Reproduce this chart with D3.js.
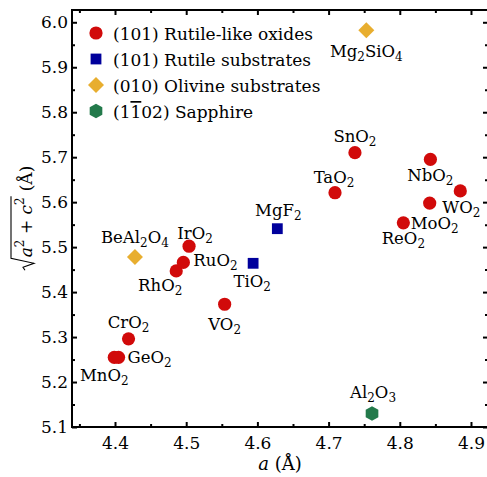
<!DOCTYPE html>
<html>
<head>
<meta charset="utf-8">
<script src="https://cdn.jsdelivr.net/npm/d3@7"></script>
<style>
  body { margin: 0; background: #fff; }
  svg { display: block; font-family: "DejaVu Serif", serif; }
</style>
</head>
<body>
<div id="chart"></div>
<script>

// (101) rutile-like oxides
const oxideNames = ["MnO2", "GeO2", "CrO2", "VO2", "RhO2", "RuO2", "IrO2", "TaO2", "SnO2", "ReO2", "MoO2", "NbO2", "WO2"];
const oxideA = [4.399, 4.405, 4.419, 4.554, 4.486, 4.496, 4.504, 4.709, 4.737, 4.805, 4.842, 4.843, 4.885];
const oxideR = [5.255, 5.255, 5.296, 5.373, 5.447, 5.466, 5.502, 5.621, 5.710, 5.554, 5.598, 5.695, 5.625];

// (101) rutile substrates
const rutileNames = ["TiO2", "MgF2"];
const rutileA = [4.594, 4.628];
const rutileR = [5.464, 5.541];

// (010) olivine substrates
const olivineNames = ["BeAl2O4", "Mg2SiO4"];
const olivineA = [4.428, 4.753];
const olivineR = [5.478, 5.982];

// (1-102) sapphire
const sapphireNames = ["Al2O3"];
const sapphireA = [4.761];
const sapphireR = [5.130];

const xTicks = [4.4, 4.5, 4.6, 4.7, 4.8, 4.9];
const xMinor = [4.35, 4.45, 4.55, 4.65, 4.75, 4.85];
const yTicks = [5.1, 5.2, 5.3, 5.4, 5.5, 5.6, 5.7, 5.8, 5.9, 6.0];
const yMinor = [5.15, 5.25, 5.35, 5.45, 5.55, 5.65, 5.75, 5.85, 5.95];

// label placement: [anchor, dx, dy] in px from the marker
const labelPos = {
    MnO2: ["middle", -10, 24], GeO2: ["start", 9, 6], CrO2: ["middle", 0, -11],
    VO2: ["middle", 0, 26], RhO2: ["middle", -16, 20], RuO2: ["start", 10, 4],
    IrO2: ["middle", 6, -7], TaO2: ["middle", -1, -10], SnO2: ["middle", 0, -11],
    ReO2: ["middle", 0, 21], MoO2: ["middle", 5, 26], NbO2: ["middle", 0, 22],
    WO2: ["middle", 1, 22], TiO2: ["middle", -1, 24], MgF2: ["middle", 1, -13],
    BeAl2O4: ["middle", 0, -14], Mg2SiO4: ["middle", 0, 27], Al2O3: ["middle", 1, -16]
};

const colors = {red: "#d10a0a", blue: "#00009c", orange: "#e8ae2f", green: "#237a4b"};

const width = 487, height = 477;

const svg = d3.select("#chart").append("svg")
    .attr("width", width)
    .attr("height", height);

const x = d3.scaleLinear().domain([4.3396, 4.9239]).range([72, 488]);
const y = d3.scaleLinear().domain([5.1, 6.0273]).range([427, 10]);

// axes (ticks point inward)
function styleAxis(g) {
    g.select(".domain").remove();
    g.selectAll("line").attr("stroke", "#000").attr("stroke-width", 2);
    g.selectAll("text").attr("fill", "#000")
        .style("font-family", "DejaVu Serif").style("font-size", "17px");
}

svg.append("g").attr("transform", "translate(0,427)")
    .call(d3.axisBottom(x).tickValues(xTicks).tickSize(-5).tickPadding(10).tickFormat(d3.format(".1f")))
    .call(styleAxis);
svg.append("g").attr("transform", "translate(0,427)")
    .call(d3.axisBottom(x).tickValues(xMinor).tickSize(-3).tickFormat(""))
    .call(styleAxis);
svg.append("g").attr("transform", "translate(0,10)")
    .call(d3.axisTop(x).tickValues(xTicks).tickSize(-5).tickFormat(""))
    .call(styleAxis);
svg.append("g").attr("transform", "translate(0,10)")
    .call(d3.axisTop(x).tickValues(xMinor).tickSize(-3).tickFormat(""))
    .call(styleAxis);

svg.append("g").attr("transform", "translate(72,0)")
    .call(d3.axisLeft(y).tickValues(yTicks).tickSize(-5).tickPadding(4).tickFormat(d3.format(".1f")))
    .call(styleAxis);
svg.append("g").attr("transform", "translate(72,0)")
    .call(d3.axisLeft(y).tickValues(yMinor).tickSize(-3).tickFormat(""))
    .call(styleAxis);
svg.append("g").attr("transform", "translate(488,0)")
    .call(d3.axisRight(y).tickValues(yTicks).tickSize(-5).tickFormat(""))
    .call(styleAxis);
svg.append("g").attr("transform", "translate(488,0)")
    .call(d3.axisRight(y).tickValues(yMinor).tickSize(-3).tickFormat(""))
    .call(styleAxis);

// frame
svg.append("rect")
    .attr("x", x.range()[0]).attr("y", y.range()[1])
    .attr("width", x.range()[1] - x.range()[0])
    .attr("height", y.range()[0] - y.range()[1])
    .attr("fill", "none").attr("stroke", "#000").attr("stroke-width", 2);

// marker shapes
function shapePath(type) {
    if (type === "square") {
        let s = 5.4;
        return `M${-s},${-s}H${s}V${s}H${-s}Z`;
    }
    if (type === "diamond") {
        let s = 8;
        return `M0,${-s}L${s},0L0,${s}L${-s},0Z`;
    }
    if (type === "hexagon") {
        let r = 7.3;
        let pts = d3.range(6).map(i => {
            let ang = Math.PI / 3 * i - Math.PI / 2;
            return [r * Math.cos(ang), r * Math.sin(ang)];
        });
        return "M" + pts.map(p => p.join(",")).join("L") + "Z";
    }
    return d3.symbol(d3.symbolCircle, Math.PI * 6.6 * 6.6)();
}

// chemical formula with subscripts
function formula(sel, name, subSize) {
    let parts = name.match(/\d+|\D+/g);
    let shifted = false;
    parts.forEach(p => {
        let t = sel.append("tspan").text(p);
        if (/\d/.test(p)) {
            t.attr("dy", 4).style("font-size", subSize + "px");
            shifted = true;
        } else if (shifted) {
            t.attr("dy", -4);
            shifted = false;
        }
    });
}

const series = [
    {names: oxideNames, a: oxideA, r: oxideR, shape: "circle", color: colors.red},
    {names: rutileNames, a: rutileA, r: rutileR, shape: "square", color: colors.blue},
    {names: olivineNames, a: olivineA, r: olivineR, shape: "diamond", color: colors.orange},
    {names: sapphireNames, a: sapphireA, r: sapphireR, shape: "hexagon", color: colors.green}
];

series.forEach(s => {
    let pts = s.names.map((n, i) => ({name: n, a: s.a[i], r: s.r[i]}));

    svg.append("g").selectAll("path")
        .data(pts)
        .enter().append("path")
        .attr("d", shapePath(s.shape))
        .attr("transform", d => `translate(${x(d.a)},${y(d.r)})`)
        .attr("fill", s.color);

    pts.forEach(d => {
        let lp = labelPos[d.name];
        let t = svg.append("text")
            .attr("x", x(d.a) + lp[1])
            .attr("y", y(d.r) + lp[2])
            .attr("text-anchor", lp[0])
            .style("font-size", "16.5px")
            .attr("fill", "#000");
        formula(t, d.name, 12);
    });
});

// legend
const legendItems = [
    {text: "(101) Rutile-like oxides", shape: "circle", color: colors.red},
    {text: "(101) Rutile substrates", shape: "square", color: colors.blue},
    {text: "(010) Olivine substrates", shape: "diamond", color: colors.orange},
    {text: null, shape: "hexagon", color: colors.green}
];

let legend = svg.append("g").attr("transform", "translate(96,33)");

legendItems.forEach((item, i) => {
    let row = legend.append("g").attr("transform", `translate(0,${i * 26})`);
    row.append("path").attr("d", shapePath(item.shape)).attr("fill", item.color);
    let t = row.append("text").attr("x", 17).attr("y", 7)
        .style("font-size", "17px").attr("fill", "#000");
    if (item.text) {
        t.text(item.text);
    } else {
        t.append("tspan").text("(1");
        t.append("tspan").text("1").style("text-decoration", "overline");
        t.append("tspan").text("02) Sapphire");
    }
});

// x label
let xl = svg.append("text")
    .attr("x", 280).attr("y", 470)
    .attr("text-anchor", "middle")
    .style("font-size", "18px");
xl.append("tspan").text("a").style("font-style", "italic");
xl.append("tspan").text(" (Å)");

// y label: sqrt(a^2 + c^2) (Å)
let yl = svg.append("g").attr("transform", "translate(32,218) rotate(-90)");
let rad = yl.append("text").style("font-size", "17px");
rad.append("tspan").text("a").style("font-style", "italic");
rad.append("tspan").text("2").attr("dy", -8).style("font-size", "12px");
rad.append("tspan").text(" + ").attr("dy", 8);
rad.append("tspan").text("c").style("font-style", "italic");
rad.append("tspan").text("2").attr("dy", -8).style("font-size", "12px");
let unit = yl.append("text").style("font-size", "17px").text("(Å)");

let radW = rad.node().getComputedTextLength();
let unitW = unit.node().getComputedTextLength();
let signW = 13, gap = 6;
let total = signW + radW + gap + unitW;
let x0 = -total / 2;

rad.attr("x", x0 + signW);
unit.attr("x", x0 + signW + radW + gap);

yl.append("path")
    .attr("d", `M${x0},-7 L${x0 + 3},-9 L${x0 + 7},2 L${x0 + 12},-21 L${x0 + signW + radW + 1},-21`)
    .attr("fill", "none").attr("stroke", "#000").attr("stroke-width", 1.1);

</script>
</body>
</html>
